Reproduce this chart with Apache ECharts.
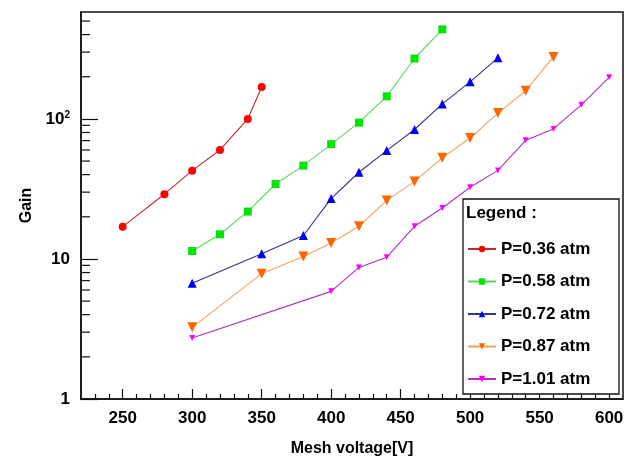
<!DOCTYPE html>
<html>
<head>
<meta charset="utf-8">
<script src="https://cdn.jsdelivr.net/npm/echarts@6/dist/echarts.min.js"></script>
<style>
  html, body { margin: 0; padding: 0; background: #fff; }
  #chart { width: 635px; height: 459px; }
</style>
</head>
<body>
<div id="chart"></div>
<script>
// mesh voltage [V] and gain for each pressure
const v036 = [250, 280, 300, 320, 340, 350];
const g036 = [17, 29, 42.7, 60, 100, 169];

const v058 = [300, 320, 340, 360, 380, 400, 420, 440, 460, 480];
const g058 = [11.4, 15, 21.8, 34.3, 46.4, 66, 94, 145, 270, 436];

const v072 = [300, 350, 380, 400, 420, 440, 460, 480, 500, 520];
const g072 = [6.7, 10.9, 14.7, 27, 41.6, 59.4, 84, 128, 184, 273];

const v087 = [300, 350, 380, 400, 420, 440, 460, 480, 500, 520, 540, 560];
const g087 = [3.25, 7.85, 10.4, 13, 17.1, 26.2, 35.8, 52.7, 73, 110, 159, 277];

const v101 = [300, 400, 420, 440, 460, 480, 500, 520, 540, 560, 580, 600];
const g101 = [2.73, 5.87, 8.7, 10.3, 17.1, 23.1, 32.5, 42.9, 70.4, 84.8, 126, 198];

const seriesNames = ['P=0.36 atm', 'P=0.58 atm', 'P=0.72 atm', 'P=0.87 atm', 'P=1.01 atm'];

// axis ticks
const xMajor = [250, 300, 350, 400, 450, 500, 550, 600];
const xMinor = [230, 240, 260, 270, 280, 290, 310, 320, 330, 340, 360, 370, 380, 390,
  410, 420, 430, 440, 460, 470, 480, 490, 510, 520, 530, 540, 560, 570, 580, 590];
const yMinor = [2, 3, 4, 5, 6, 7, 8, 9, 20, 30, 40, 50, 60, 70, 80, 90, 200, 300, 400, 500];
const X_MIN = 220, X_MAX = 610, Y_MIN = 1, Y_MAX = 580;

function pairs(xs, ys) {
  return xs.map((x, i) => [x, ys[i]]);
}

const chart = echarts.init(document.getElementById('chart'));

const bold = { fontFamily: 'Liberation Sans, Arial, sans-serif', fontWeight: 'bold', color: '#000' };

function lineSeries(name, data, symbol, size, markColor, lineColor, rotate) {
  return {
    name: name,
    type: 'line',
    data: data,
    symbol: symbol,
    symbolSize: size,
    symbolRotate: rotate || 0,
    itemStyle: { color: markColor },
    lineStyle: { color: lineColor, width: 1.1 },
    z: 3
  };
}

const option = {
  animation: false,
  backgroundColor: '#fff',
  title: {
    text: 'Legend :',
    left: 466,
    top: 205,
    padding: 0,
    textStyle: Object.assign({ fontSize: 17 }, bold)
  },
  grid: {
    left: 81, top: 12, right: 12, bottom: 60,
    outerBoundsMode: 'none',
    containLabel: false,
    show: true,
    borderColor: '#111',
    borderWidth: 1.5
  },
  legend: {
    data: seriesNames,
    orient: 'vertical',
    left: 463,
    top: 199,
    padding: [41, 22, 6, 4],
    itemWidth: 28,
    itemHeight: 8,
    itemGap: 14.5,
    backgroundColor: '#fff',
    borderColor: '#111',
    borderWidth: 1.3,
    textStyle: Object.assign({ fontSize: 17, lineHeight: 18, width: 96 }, bold)
  },
  xAxis: [
    {
      type: 'value',
      min: X_MIN,
      max: X_MAX,
      position: 'bottom',
      name: 'Mesh voltage[V]',
      nameLocation: 'middle',
      nameGap: 42,
      nameTextStyle: Object.assign({ fontSize: 16 }, bold),
      axisLine: { lineStyle: { color: '#111', width: 1.5 } },
      axisTick: { inside: true, length: 10, customValues: xMajor, lineStyle: { color: '#111', width: 1.2 } },
      axisLabel: Object.assign({ customValues: xMajor, fontSize: 17, margin: 11 }, bold),
      splitLine: { show: false }
    },
    {
      type: 'value',
      min: X_MIN,
      max: X_MAX,
      position: 'bottom',
      axisLine: { show: false },
      axisTick: { inside: true, length: 5, customValues: xMinor, lineStyle: { color: '#111', width: 1.2 } },
      axisLabel: { show: false },
      splitLine: { show: false }
    }
  ],
  yAxis: {
    type: 'log',
    logBase: 10,
    min: Y_MIN,
    max: Y_MAX,
    name: 'Gain',
    nameLocation: 'middle',
    nameGap: 46,
    nameTextStyle: Object.assign({ fontSize: 16 }, bold),
    axisLine: { lineStyle: { color: '#111', width: 1.5 } },
    axisTick: { inside: true, length: 17, lineStyle: { color: '#111', width: 1.2 } },
    axisLabel: Object.assign({
      fontSize: 17,
      margin: 11,
      showMaxLabel: false,
      formatter: function (v) {
        if (Math.abs(v - 1) < 1e-6) return '1';
        if (Math.abs(v - 10) < 1e-6) return '10';
        if (Math.abs(v - 100) < 1e-6) return '10{sup|2}';
        return '';
      },
      rich: {
        sup: { fontSize: 10, fontWeight: 'bold', fontFamily: 'Liberation Sans, Arial, sans-serif', color: '#000', padding: [0, 0, 8, 0] }
      }
    }, bold),
    splitLine: { show: false }
  },
  series: [
    lineSeries(seriesNames[0], pairs(v036, g036), 'circle', 8, '#ff0000', '#c02a2a'),
    lineSeries(seriesNames[1], pairs(v058, g058), 'rect', 8, '#00e600', '#5ad85a'),
    lineSeries(seriesNames[2], pairs(v072, g072), 'triangle', 9, '#0000ee', '#343490'),
    lineSeries(seriesNames[3], pairs(v087, g087), 'triangle', 10, '#ff6600', '#f5a25a', 180),
    lineSeries(seriesNames[4], pairs(v101, g101), 'triangle', 6, '#ff00ff', '#b030c0', 180),
    {
      // minor ticks of the log axis
      type: 'custom',
      silent: true,
      clip: false,
      data: yMinor.map(v => [X_MIN, v]),
      renderItem: function (params, api) {
        const p = api.coord([api.value(0), api.value(1)]);
        return {
          type: 'line',
          shape: { x1: p[0], y1: p[1], x2: p[0] + 9, y2: p[1] },
          style: { stroke: '#111', lineWidth: 1.2 }
        };
      },
      z: 2
    }
  ]
};

chart.setOption(option);
</script>
</body>
</html>
